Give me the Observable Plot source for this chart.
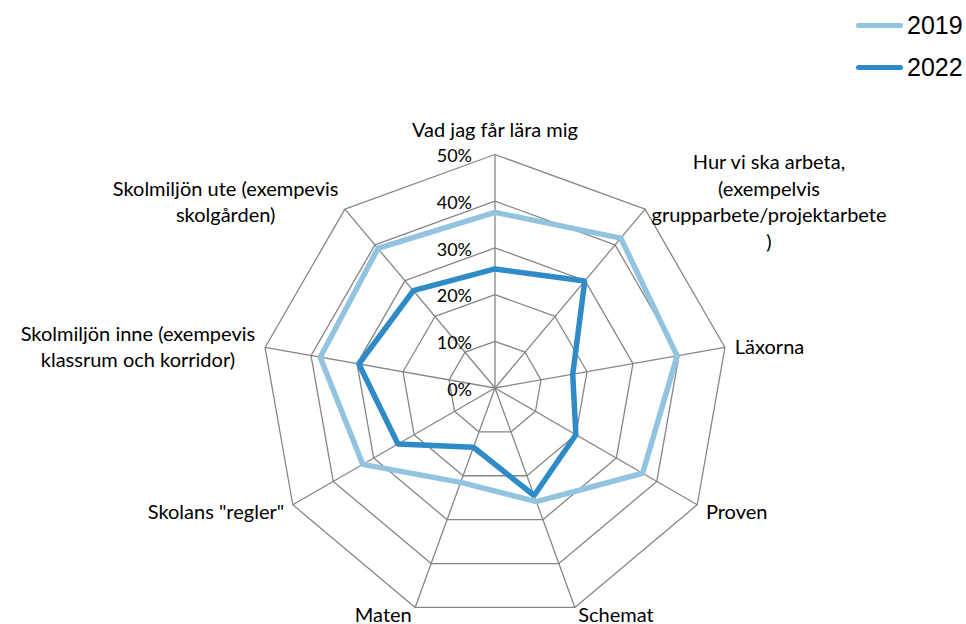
<!DOCTYPE html>
<html>
<head>
<meta charset="utf-8">
<script src="https://cdn.jsdelivr.net/npm/d3@7"></script>
<script src="https://cdn.jsdelivr.net/npm/@observablehq/plot@0.6"></script>
<style>
  html, body { margin: 0; padding: 0; background: #fff; overflow: hidden; }
  #legend { position: relative; width: 966px; height: 90px; font-family: "Liberation Sans", Arial, sans-serif; }
  .lg-line { position: absolute; width: 47px; height: 5px; border-radius: 3px; }
  .lg-text { position: absolute; font-size: 25px; line-height: 25px; color: #000; }
</style>
</head>
<body>
<div id="legend"></div>
<div id="chart"></div>
<script>
// ---- data ----
const categories = [
  "Vad jag får lära mig",
  "Hur vi ska arbeta,\n(exempelvis\ngrupparbete/projektarbete\n)",
  "Läxorna",
  "Proven",
  "Schemat",
  "Maten",
  "Skolans \"regler\"",
  "Skolmiljön inne (exempevis\nklassrum och korridor)",
  "Skolmiljön ute (exempevis\nskolgården)"
];
const values2019 = [37.6, 41.9, 39.6, 36.5, 25.9, 21.5, 32.7, 38.0, 39.0];
const values2022 = [25.5, 29.9, 16.9, 20.0, 24.5, 13.5, 24.0, 29.6, 27.2];
const seriesNames = ["2019", "2022"];
const tickValues = [0, 10, 20, 30, 40, 50];
const tickLabels = ["0%", "10%", "20%", "30%", "40%", "50%"];

// ---- styling ----
const colors = {"2019": "#92c3df", "2022": "#2e8bc8"};
const gridColor = "#868686";
const fontFamily = "Lato, 'Open Sans', sans-serif";
const tickFontSize = 18;
const labelFontSize = 20;
const maxV = 50;

// ---- legend ----
const legend = document.getElementById("legend");
seriesNames.forEach((name, i) => {
  const cy = 25 + i * 42;
  const ln = document.createElement("div");
  ln.className = "lg-line";
  ln.style.left = "856px";
  ln.style.top = (cy - 2.5) + "px";
  ln.style.background = colors[name];
  legend.appendChild(ln);
  const tx = document.createElement("div");
  tx.className = "lg-text";
  tx.style.left = "907px";
  tx.style.top = (cy - 12.5) + "px";
  tx.textContent = name;
  legend.appendChild(tx);
});

// ---- geometry helpers ----
const n = categories.length;
const angle = i => (i * 2 * Math.PI) / n;
const px = (v, i) => v * Math.sin(angle(i));
const py = (v, i) => v * Math.cos(angle(i));

const ringData = [];
tickValues.filter(t => t > 0).forEach(t => {
  for (let i = 0; i <= n; i++) ringData.push({ring: t, x: px(t, i % n), y: py(t, i % n)});
});
const spokeData = categories.map((c, i) => ({x2: px(maxV, i), y2: py(maxV, i)}));

const seriesData = [];
[[seriesNames[0], values2019], [seriesNames[1], values2022]].forEach(([name, vals]) => {
  for (let i = 0; i <= n; i++) seriesData.push({series: name, x: px(vals[i % n], i % n), y: py(vals[i % n], i % n)});
});

// text measurement for label block placement
const ctx = document.createElement("canvas").getContext("2d");
ctx.font = `${labelFontSize}px ${fontFamily}`;
const blockWidth = s => Math.max(...s.split("\n").map(l => ctx.measureText(l).width));

const labelMarks = categories.map((c, i) => {
  const s = Math.sin(angle(i)), co = Math.cos(angle(i));
  let dx = 0, dy = 0;
  if (Math.abs(s) < 0.1) {
    dy = -26;
  } else {
    const sign = Math.sign(s);
    dx = sign * (10 * Math.abs(s) + blockWidth(c) / 2);
    dy = Math.min(6, -11 * co);
  }
  return Plot.text([c], {
    x: px(maxV, i), y: py(maxV, i), text: d => d,
    dx, dy, textAnchor: "middle", lineAnchor: "middle",
    lineHeight: 26.5 / labelFontSize, fontSize: labelFontSize, fill: "#000"
  });
});

const chart = Plot.plot({
  width: 966,
  height: 534,
  margin: 0,
  x: {domain: [-maxV, maxV], range: [261, 728], axis: null},
  y: {domain: [-maxV, maxV], range: [531, 64], axis: null},
  style: {fontFamily, fontSize: tickFontSize + "px", background: "#fff", color: "#000", overflow: "visible"},
  marks: [
    Plot.line(ringData, {x: "x", y: "y", z: "ring", stroke: gridColor, strokeWidth: 1.3}),
    Plot.link(spokeData, {x1: 0, y1: 0, x2: "x2", y2: "y2", stroke: gridColor, strokeWidth: 1.3}),
    Plot.line(seriesData, {x: "x", y: "y", z: "series", stroke: d => colors[d.series], strokeWidth: 5.5, strokeLinejoin: "miter", curve: "linear"}),
    Plot.text(tickValues, {x: 0, y: d => d, text: (d, i) => tickLabels[i], textAnchor: "end", dx: -23, dy: 2, fontSize: tickFontSize, fill: "#000"}),
    ...labelMarks
  ]
});
document.getElementById("chart").appendChild(chart);
</script>
</body>
</html>
